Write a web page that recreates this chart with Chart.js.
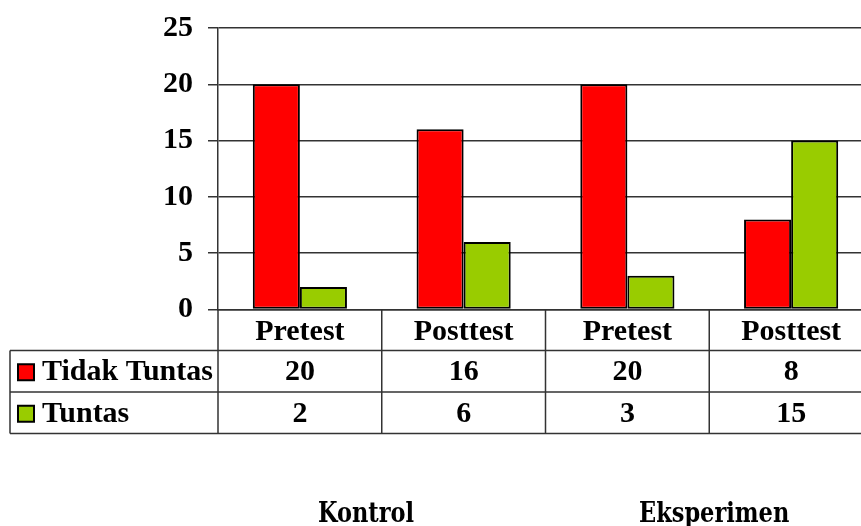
<!DOCTYPE html>
<html>
<head>
<meta charset="utf-8">
<script src="https://cdn.jsdelivr.net/npm/chart.js@4"></script>
<style>
  html, body { margin: 0; padding: 0; background: #fff; overflow: hidden; }
  #wrap { position: relative; width: 880px; height: 526px; }
</style>
</head>
<body>
<div id="wrap"><canvas id="chart" width="880" height="526"></canvas></div>
<script>
// chart data
const categories = ['Pretest', 'Posttest', 'Pretest', 'Posttest'];
const seriesNames = ['Tidak Tuntas', 'Tuntas'];
const tidakTuntas = [20, 16, 20, 8];
const tuntas = [2, 6, 3, 15];
const groupLabels = ['Kontrol', 'Eksperimen'];
const yMax = 25;
const yStep = 5;

const colors = ['#ff0000', '#99cc00'];
const lineColor = '#333333';
const serif = '"Liberation Serif", "Times New Roman", serif';

// draws the data table under the axis + group captions
const tablePlugin = {
    id: 'dataTable',
    afterDraw(chart) {
        const ctx = chart.ctx;
        const area = chart.chartArea;
        const xs = chart.scales.x;
        const rowH = 41.5;
        const top = area.bottom;
        const r1 = top + 41;
        const r2 = r1 + rowH;
        const r3 = r2 + rowH;
        const tableLeft = 10;
        const right = chart.width;

        ctx.save();
        ctx.strokeStyle = lineColor;
        ctx.lineWidth = 1.5;
        ctx.beginPath();
        [r1, r2, r3].forEach(y => {
            ctx.moveTo(tableLeft, y);
            ctx.lineTo(right, y);
        });
        ctx.moveTo(tableLeft, r1);
        ctx.lineTo(tableLeft, r3);
        ctx.moveTo(area.left, top);
        ctx.lineTo(area.left, r3);
        for (let i = 0; i < categories.length - 1; i++) {
            const bx = (xs.getPixelForValue(i) + xs.getPixelForValue(i + 1)) / 2;
            ctx.moveTo(bx, top);
            ctx.lineTo(bx, r3);
        }
        ctx.stroke();

        // rows
        const rows = [tidakTuntas, tuntas];
        const rowTops = [r1, r2];
        ctx.font = 'bold 30px ' + serif;
        ctx.fillStyle = '#000';
        ctx.textBaseline = 'middle';
        rows.forEach((vals, r) => {
            const cy = rowTops[r] + rowH / 2 + 1;
            // legend key
            ctx.fillStyle = colors[r];
            ctx.fillRect(18, cy - 8, 16, 16);
            ctx.strokeStyle = '#000';
            ctx.lineWidth = 2;
            ctx.strokeRect(18, cy - 8, 16, 16);
            ctx.fillStyle = '#000';
            ctx.textAlign = 'left';
            ctx.fillText(seriesNames[r], 42, cy);
            ctx.textAlign = 'center';
            vals.forEach((v, i) => {
                ctx.fillText(String(v), xs.getPixelForValue(i), cy);
            });
        });

        // group captions below the table
        ctx.font = 'bold 25px "DejaVu Serif Condensed", "DejaVu Serif", serif';
        ctx.textAlign = 'left';
        ctx.textBaseline = 'alphabetic';
        ctx.save();
        ctx.translate(0, 522);
        ctx.scale(1, 1.1);
        ctx.fillText(groupLabels[0], 318, 0);
        ctx.fillText(groupLabels[1], 639, 0);
        ctx.restore();
        ctx.restore();
    }
};

const ctx = document.getElementById('chart').getContext('2d');
new Chart(ctx, {
    type: 'bar',
    data: {
        labels: categories,
        datasets: [
            {
                label: seriesNames[0],
                data: tidakTuntas,
                backgroundColor: colors[0],
                borderColor: '#000',
                borderWidth: 2,
                borderSkipped: false,
            },
            {
                label: seriesNames[1],
                data: tuntas,
                backgroundColor: colors[1],
                borderColor: '#000',
                borderWidth: 2,
                borderSkipped: false,
            },
        ],
    },
    options: {
        responsive: false,
        animation: false,
        layout: { padding: { top: 28, right: 7, left: 0, bottom: 0 } },
        plugins: {
            legend: { display: false },
            tooltip: { enabled: false },
        },
        datasets: {
            bar: { categoryPercentage: 0.575, barPercentage: 1 },
        },
        scales: {
            x: {
                grid: { display: false, drawTicks: false },
                border: { display: true, color: lineColor, width: 1.5 },
                ticks: {
                    color: '#000',
                    font: { family: serif, size: 30, weight: 'bold' },
                    padding: 5,
                    maxRotation: 0,
                },
                afterFit(scale) { scale.height = 216.5; },
            },
            y: {
                min: 0,
                max: yMax,
                ticks: {
                    stepSize: yStep,
                    color: '#000',
                    font: { family: serif, size: 30, weight: 'bold' },
                    padding: 15,
                },
                grid: { color: lineColor, lineWidth: 1.5, tickLength: 10 },
                border: { display: true, color: lineColor, width: 1.5 },
                afterFit(scale) {
                    scale.width = 218;
                    scale.paddingTop = 0;
                    scale.paddingBottom = 0;
                },
            },
        },
    },
    plugins: [tablePlugin],
});
</script>
</body>
</html>
